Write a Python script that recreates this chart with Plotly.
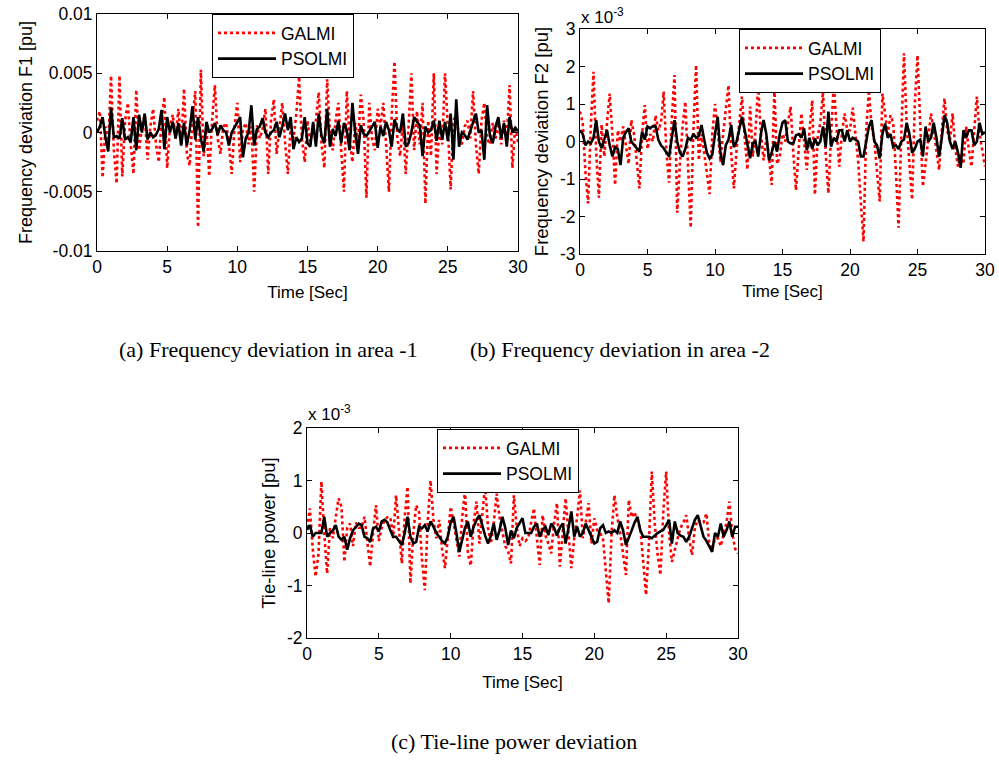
import numpy as np
import plotly.graph_objects as go

# Sampled responses (0 .. 30 s, step 0.2 s). Values in units of 1e-3 pu.
galmi_f1 = [
    1.0, 1.8, -3.8, 0.5, -1.0, 4.8, -1.5, -4.3, 4.8, -3.7,
    1.0, 2.5, -1.0, -3.5, 3.6, -1.5, 0.5, 1.5, -2.3, 0.5,
    2.0, -1.0, -2.5, 1.0, 3.0, -3.0, 0.5, 1.5, -0.5, 2.0,
    -1.0, 3.7, -1.8, -2.8, 1.0, 3.5, -8.0, 5.3, -2.0, 0.5,
    -3.7, 1.0, 4.0, -0.5, -1.8, 0.5, 0.8, -1.0, -3.5, 0.5,
    2.5, -2.5, 0.3, 0.8, -1.0, 0.5, -5.0, 0.6, -0.5, 0.3,
    2.0, -3.5, 1.0, 2.8, -1.8, 0.5, 2.5, -0.8, -3.5, 0.5,
    -0.5, 1.5, 4.7, -0.5, -2.5, 1.0, -0.8, 0.5, 1.0, 3.4,
    -1.0, -3.0, 4.5, 0.0, -1.5, 1.0, 2.5, -1.5, -5.0, 3.5,
    -0.5, -2.5, 0.8, -1.0, 3.2, 1.0, -5.5, 2.5, -0.5, -1.5,
    2.0, 0.5, 2.5, -1.0, -5.0, 1.5, 6.0, -0.5, -2.0, 1.0,
    -3.5, 0.5, 5.0, -1.5, 1.8, -1.0, 2.5, -6.0, 1.0, -2.0,
    5.0, -3.5, 0.5, -1.0, 5.0, 0.5, -4.8, 1.0, 1.5, -0.5,
    -1.0, 0.5, 1.0, -0.5, 3.5, -1.0, -3.5, 1.0, 2.5, -0.5,
    -1.0, 0.8, -0.5, 0.8, -1.0, 1.0, -0.5, 4.0, -3.0, 0.5,
    -0.8,
]
psolmi_f1 = [
    0.0, 0.5, 1.3, -0.4, -1.6, 2.1, -0.4, -0.3, -0.5, 1.2,
    -0.6, -0.4, -0.8, 1.3, -1.5, 1.5, 0.0, 1.6, -0.6, 0.0,
    -0.4, -0.2, 0.3, 1.9, -1.4, 1.3, 0.0, 0.9, -0.5, 0.8,
    -1.1, 0.8, -1.1, 0.2, 2.2, -0.6, 1.3, -0.5, -1.6, 0.9,
    0.0, 0.3, 0.8, -0.2, 0.6, 0.2, 0.0, -1.1, 0.0, 0.4,
    0.9, 1.3, -2.1, -0.5, 0.0, 2.3, -1.1, 0.3, 0.5, 1.2,
    0.0, -0.4, 0.0, 0.2, 0.9, -0.4, 0.5, 1.6, 0.2, 1.3,
    -1.4, -0.4, -0.8, -0.5, 1.3, -0.9, -1.2, 0.9, -1.2, 1.6,
    -0.3, -0.9, 2.0, -1.2, 0.3, -0.3, 1.0, -0.9, 0.8, 0.2,
    -1.5, 2.5, 0.0, -1.8, 0.6, -0.1, -0.3, 0.1, 0.4, 0.9,
    -1.3, 0.5, -0.3, 0.9, 0.2, -1.2, 1.1, 0.3, 0.0, 1.6,
    -1.2, -0.9, 0.0, 1.3, 0.9, 0.6, -2.0, 0.5, 0.0, 0.2,
    1.0, -0.7, 1.0, -0.6, 0.9, -0.7, 1.6, -2.3, 2.8, -1.2,
    0.0, -0.2, -0.6, 0.2, 0.8, 1.6, 0.0, 0.2, -2.3, 2.3,
    -0.3, -0.9, 0.5, 1.3, -0.5, 0.8, -1.2, 1.3, 0.0, 0.4,
    0.1,
]
galmi_f2 = [
    0.8, 0.5, -0.8, -1.65, 0.4, 1.86, -0.3, -1.5, 0.45, -0.4,
    0.5, 1.28, 0.2, -1.16, 0.3, 0.0, 0.4, -0.1, -0.6, 0.57,
    0.2, -0.5, -1.25, 0.2, 0.97, -0.2, 0.2, 0.0, 0.7, 0.3,
    0.5, 1.33, -0.3, -1.1, 0.6, 1.77, -1.9, -0.6, 0.4, 1.06,
    -0.6, -2.3, 0.3, 2.04, -0.5, 0.2, -0.3, -0.8, -1.4, 0.2,
    1.0, 0.3, -0.55, 0.2, 0.8, 1.5, -0.3, -1.25, -0.2, 0.6,
    1.2, 0.1, -0.75, 0.93, -0.4, 0.3, 1.46, 0.2, -0.5, 0.1,
    -0.4, -1.16, 1.4, -0.6, -0.4, 0.2, 0.0, 0.5, 0.93, -0.3,
    -1.3, -0.2, 0.75, 0.0, -0.76, 0.3, 1.1, -1.42, 0.1, 0.5,
    1.33, -0.3, -1.38, 0.2, 1.55, 0.4, -0.67, 0.2, 0.75, 0.3,
    0.3, 0.9, 0.1, -0.5, -1.6, -2.67, 0.3, 1.37, 0.4, 0.04,
    -0.8, -1.6, 1.28, 0.66, 0.2, 0.7, 0.5, -0.8, -2.3, 0.2,
    2.35, 0.4, -0.6, -1.55, 1.0, 2.3, 0.5, -1.2, -0.58, 0.1,
    0.75, 0.3, -0.2, -0.76, 0.3, 1.15, 0.3, 0.0, 0.75, -0.2,
    -0.67, -0.3, -0.6, 0.4, -0.2, -0.67, 0.3, 1.2, 0.2, -0.3,
    -0.67,
]
psolmi_f2 = [
    0.3, 0.2, -0.1, 0.0, -0.05, 0.1, 0.57, 0.0, -0.18, 0.1,
    0.3, -0.1, -0.4, -0.15, -0.2, -0.63, 0.1, 0.25, 0.35, 0.0,
    -0.1, -0.2, -0.27, 0.26, 0.05, 0.4, 0.35, 0.41, 0.4, 0.05,
    -0.1, -0.18, -0.3, -0.4, 0.1, 0.57, 0.0, -0.3, -0.4, -0.2,
    0.1, 0.04, 0.2, 0.1, 0.15, 0.44, 0.05, -0.3, -0.45, -0.35,
    0.2, 0.66, -0.3, -0.63, -0.1, 0.05, 0.44, -0.15, 0.0, 0.3,
    0.66, 0.3, -0.1, -0.45, -0.05, 0.0, -0.4, 0.2, 0.57, 0.2,
    -0.5, -0.3, 0.0, -0.27, 0.2, 0.5, 0.57, 0.0, -0.05, -0.05,
    0.17, 0.2, 0.1, 0.35, -0.23, 0.1, -0.2, 0.08, -0.1, 0.0,
    0.4, -0.15, 0.8, -0.14, 0.1, 0.0, 0.3, 0.3, 0.0, 0.3,
    0.0, 0.1, 0.05, 0.0, -0.4, -0.4, 0.0, 0.4, 0.57, 0.0,
    -0.1, -0.45, 0.2, 0.48, 0.1, 0.2, -0.15, -0.1, -0.2, 0.0,
    0.05, 0.5, 0.2, -0.3, -0.2, 0.0, 0.05, -0.4, 0.4, 0.0,
    0.1, 0.5, 0.1, -0.4, 0.1, 0.7, 0.5, 0.0, -0.2, 0.0,
    -0.3, -0.7, 0.3, 0.1, 0.3, 0.3, -0.1, 0.0, 0.5, 0.2,
    0.25,
]
galmi_tie = [
    0.1, 0.47, -0.3, -0.83, -0.4, 0.98, 0.0, -0.77, 0.1, -0.1,
    0.3, 0.66, 0.5, -0.55, 0.1, 0.18, -0.25, 0.2, 0.1, 0.1,
    0.31, -0.2, -0.64, 0.0, 0.53, -0.15, 0.1, 0.25, 0.3, 0.3,
    -0.1, 0.72, 0.0, -0.58, 0.3, 0.88, -0.96, 0.0, 0.53, 0.4,
    -0.5, -1.09, 0.2, 1.0, 0.25, -0.1, 0.25, -0.3, -0.67, 0.0,
    0.5, 0.2, -0.1, -0.45, 0.3, 0.8, -0.4, -0.62, 0.2, 0.6,
    -0.2, 0.3, 0.9, 0.1, -0.2, 0.2, 0.75, 0.3, 0.0, -0.25,
    -0.35, -0.58, 0.72, 0.1, -0.25, -0.1, -0.15, -0.1, 0.2, 0.47,
    -0.1, -0.61, 0.34, -0.05, -0.2, -0.39, 0.2, 0.57, -0.64, 0.1,
    0.66, 0.0, -0.67, -0.1, 0.3, 0.81, -0.1, 0.2, 0.57, -0.2,
    0.28, 0.05, 0.0, -0.1, -0.8, -1.34, 0.0, 0.72, 0.3, 0.0,
    -0.4, -0.8, 0.63, 0.3, 0.4, 0.2, 0.1, -0.6, -1.18, -0.2,
    1.17, 0.2, -0.4, -0.8, 0.4, 1.17, 0.0, -0.55, -0.3, -0.1,
    0.1, 0.2, 0.34, -0.1, -0.42, 0.1, 0.25, 0.2, 0.2, 0.37,
    -0.2, -0.32, -0.1, -0.1, -0.25, 0.0, 0.2, 0.6, 0.0, -0.3,
    -0.39,
]
psolmi_tie = [
    0.06, 0.15, -0.07, 0.0, 0.0, 0.0, 0.31, -0.07, 0.0, 0.05,
    0.15, -0.07, -0.13, -0.07, -0.32, -0.1, 0.05, 0.12, 0.18, 0.15,
    -0.07, -0.1, -0.17, 0.09, 0.12, 0.03, 0.22, 0.25, 0.2, 0.05,
    -0.07, -0.07, -0.15, -0.23, 0.0, 0.31, -0.07, -0.2, -0.17, 0.12,
    0.09, 0.15, 0.03, 0.22, 0.12, 0.0, -0.07, -0.15, -0.2, -0.07,
    0.2, 0.31, 0.0, -0.36, -0.13, 0.1, 0.22, -0.07, 0.12, 0.25,
    0.34, 0.12, -0.05, -0.2, -0.05, 0.18, -0.13, 0.05, 0.31, 0.1,
    -0.23, 0.05, -0.1, 0.1, 0.2, 0.28, 0.0, 0.0, 0.0, 0.12,
    0.18, -0.07, 0.06, 0.12, -0.04, 0.18, 0.1, -0.05, 0.1, 0.18,
    -0.2, 0.09, 0.41, -0.07, 0.12, -0.07, 0.0, 0.18, 0.05, -0.07,
    -0.2, -0.17, 0.09, 0.15, 0.0, 0.03, 0.0, 0.05, 0.0, 0.22,
    0.05, -0.23, -0.07, 0.05, 0.2, 0.31, 0.05, -0.07, -0.07, -0.07,
    -0.1, -0.05, 0.0, 0.03, 0.06, 0.15, 0.25, -0.2, 0.22, 0.0,
    -0.05, -0.07, -0.17, -0.07, 0.1, 0.25, 0.34, 0.12, -0.07, -0.15,
    -0.25, -0.36, 0.0, -0.07, 0.18, -0.07, 0.05, 0.22, -0.07, 0.12,
    0.12,
]

x_ticks = [0, 5, 10, 15, 20, 25, 30]
f1_ticks = [-0.01, -0.005, 0, 0.005, 0.01]
f1_labels = ["-0.01", "-0.005", "0", "0.005", "0.01"]
f2_ticks = [-3, -2, -1, 0, 1, 2, 3]
f2_labels = ["-3", "-2", "-1", "0", "1", "2", "3"]
tie_ticks = [-2, -1, 0, 1, 2]
tie_labels = ["-2", "-1", "0", "1", "2"]


def time_axis(values):
    return np.linspace(0, 30, len(values))


W, H = 999, 761
SANS = "Liberation Sans, Arial, sans-serif"
SERIF = "Liberation Serif, Times New Roman, serif"


def px_dom_x(a, b):
    return [a / W, b / W]


def px_dom_y(top, bottom):
    return [1 - bottom / H, 1 - top / H]


def axis_style(title_size=17, **kw):
    d = dict(showline=True, linecolor="black", linewidth=1, mirror="ticks",
             ticks="inside", ticklen=5, tickcolor="black", showgrid=False,
             zeroline=False, automargin=False,
             tickfont=dict(family=SANS, size=17.5, color="black"),
             title_font=dict(family=SANS, size=title_size, color="black"))
    d.update(kw)
    return d


def x_axis(dom, anchor, standoff):
    return axis_style(domain=dom, anchor=anchor, range=[0, 30], tickvals=x_ticks,
                      ticktext=[str(v) for v in x_ticks],
                      title=dict(text="Time [Sec]", standoff=standoff))


fig = go.Figure()

red = dict(color="#ff0000", width=2.6, dash="dot")
blk = dict(color="black", width=2.6)

fig.add_trace(go.Scatter(x=time_axis(galmi_f1), y=np.array(galmi_f1) * 1e-3, mode="lines",
                         line=red, name="GALMI", xaxis="x", yaxis="y", legend="legend"))
fig.add_trace(go.Scatter(x=time_axis(psolmi_f1), y=np.array(psolmi_f1) * 1e-3, mode="lines",
                         line=blk, name="PSOLMI", xaxis="x", yaxis="y", legend="legend"))
fig.add_trace(go.Scatter(x=time_axis(galmi_f2), y=galmi_f2, mode="lines",
                         line=red, name="GALMI", xaxis="x2", yaxis="y2", legend="legend2"))
fig.add_trace(go.Scatter(x=time_axis(psolmi_f2), y=psolmi_f2, mode="lines",
                         line=blk, name="PSOLMI", xaxis="x2", yaxis="y2", legend="legend2"))
fig.add_trace(go.Scatter(x=time_axis(galmi_tie), y=galmi_tie, mode="lines",
                         line=red, name="GALMI", xaxis="x3", yaxis="y3", legend="legend3"))
fig.add_trace(go.Scatter(x=time_axis(psolmi_tie), y=psolmi_tie, mode="lines",
                         line=blk, name="PSOLMI", xaxis="x3", yaxis="y3", legend="legend3"))

fig.update_layout(
    width=W, height=H,
    margin=dict(l=0, r=0, t=0, b=0),
    paper_bgcolor="white", plot_bgcolor="white",
    xaxis=x_axis(px_dom_x(97, 518), "y", 10),
    yaxis=axis_style(domain=px_dom_y(14, 251), anchor="x", range=[-0.01, 0.01],
                     tickvals=f1_ticks, ticktext=f1_labels, title_size=18,
                     title=dict(text="Frequency deviation F1 [pu]", standoff=5)),
    xaxis2=x_axis(px_dom_x(580, 985), "y2", 6),
    yaxis2=axis_style(domain=px_dom_y(29, 254), anchor="x2", range=[-3, 3],
                      tickvals=f2_ticks, ticktext=f2_labels, title_size=18.5,
                      title=dict(text="Frequency deviation F2 [pu]", standoff=6)),
    xaxis3=x_axis(px_dom_x(307, 738), "y3", 13),
    yaxis3=axis_style(domain=px_dom_y(428, 638), anchor="x3", range=[-2, 2],
                      tickvals=tie_ticks, ticktext=tie_labels, title_size=18.5,
                      title=dict(text="Tie-line power [pu]", standoff=6)),
)

legend_common = dict(bgcolor="white", bordercolor="black", borderwidth=1,
                     font=dict(family=SANS, size=17.5, color="black"),
                     xanchor="left", yanchor="top", itemwidth=58,
                     tracegroupgap=0)
fig.update_layout(
    legend=dict(x=212 / W, y=1 - 14 / H, **legend_common),
    legend2=dict(x=739 / W, y=1 - 29 / H, **legend_common),
    legend3=dict(x=437 / W, y=1 - 429 / H, **legend_common),
)

# exponent labels above the scaled axes
for (xp, yp) in [(579, 16), (306, 413)]:
    fig.add_annotation(x=xp / W, y=1 - yp / H, xref="paper", yref="paper",
                       xanchor="left", yanchor="middle", showarrow=False,
                       text="x 10<sup>-3</sup>",
                       font=dict(family=SANS, size=17, color="black"))

captions = [
    ("(a) Frequency deviation in area -1", 268, 350),
    ("(b) Frequency deviation in area -2", 620, 350),
    ("(c) Tie-line power deviation", 514, 741),
]
for text, xp, yp in captions:
    fig.add_annotation(x=xp / W, y=1 - yp / H, xref="paper", yref="paper",
                       xanchor="center", yanchor="middle", showarrow=False,
                       text=text, font=dict(family=SERIF, size=22, color="black"))

fig.write_html("out.html")
